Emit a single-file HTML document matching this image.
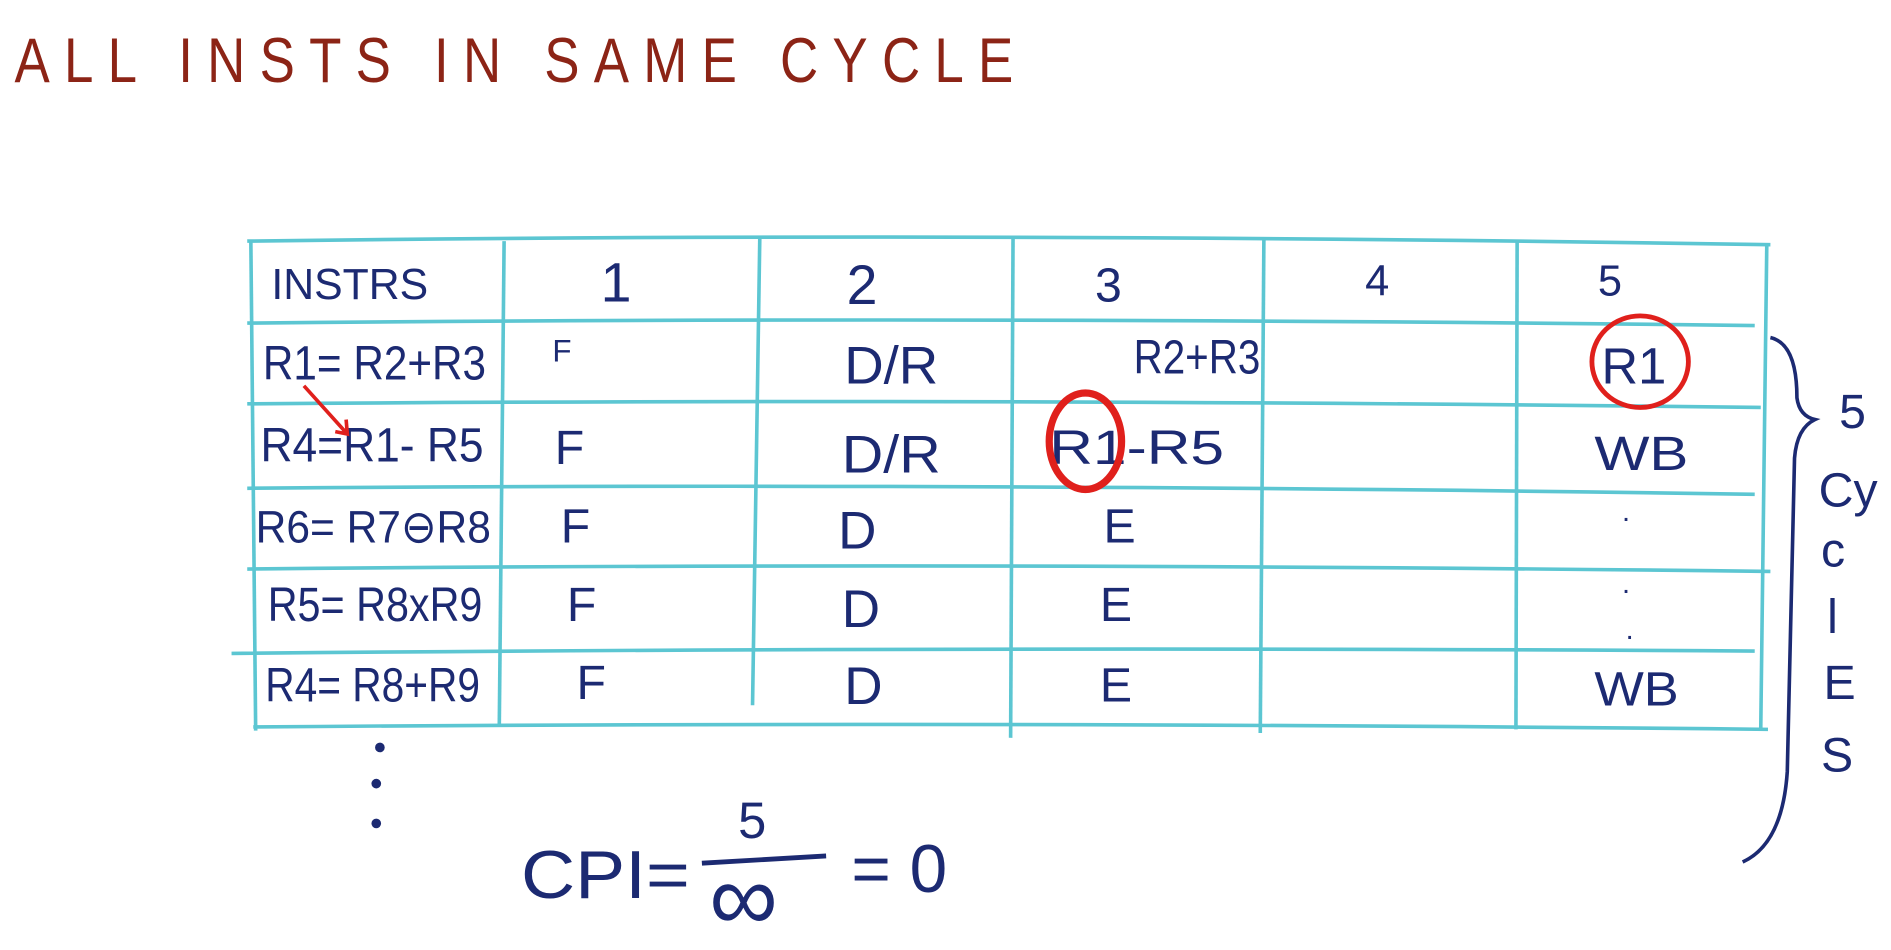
<!DOCTYPE html>
<html><head><meta charset="utf-8"><style>
html,body{margin:0;padding:0;background:#fff;}
svg{display:block;}
text{font-family:"Liberation Sans",sans-serif;}
.t{fill:#1c2a72;font-size:40px;}
.h{fill:#8c2416;font-size:52px;letter-spacing:14px;}
</style></head><body>
<svg width="1891" height="950" viewBox="0 0 1568 788" preserveAspectRatio="none" xmlns="http://www.w3.org/2000/svg">
<text class="h" x="12" y="68" textLength="840" lengthAdjust="spacingAndGlyphs">ALL INSTS IN SAME CYCLE</text>
<g stroke="#5cc6d2" stroke-width="3" fill="none">
<path d="M205 200 Q800 192 1468 203"/>
<path d="M205 268 Q800 262 1455 270"/>
<path d="M205 335 Q800 330 1460 338"/>
<path d="M205 405 Q800 400 1455 410"/>
<path d="M205 472 Q800 466 1468 474"/>
<path d="M192 542 Q800 536 1455 540"/>
<path d="M210 603 Q800 598 1466 605"/>
<path d="M208 200 L212 606"/>
<path d="M418 200 L414 602"/>
<path d="M630 198 L624 585"/>
<path d="M840 197 L838 612"/>
<path d="M1048 198 L1045 608"/>
<path d="M1258 200 L1257 605"/>
<path d="M1465 203 L1460 605"/>
</g>
<g class="t">
<text x="225" y="248" font-size="36" textLength="130" lengthAdjust="spacingAndGlyphs">INSTRS</text>
<text x="498" y="250" font-size="46">1</text>
<text x="702" y="252" font-size="46">2</text>
<text x="908" y="250" font-size="40">3</text>
<text x="1132" y="245" font-size="36">4</text>
<text x="1325" y="245" font-size="36">5</text>
<text x="218" y="315" textLength="185" lengthAdjust="spacingAndGlyphs">R1= R2+R3</text>
<text x="216" y="383" textLength="185" lengthAdjust="spacingAndGlyphs">R4=R1- R5</text>
<text x="212" y="450" font-size="38" textLength="195" lengthAdjust="spacingAndGlyphs">R6= R7⊖R8</text>
<text x="222" y="515" textLength="178" lengthAdjust="spacingAndGlyphs">R5= R8xR9</text>
<text x="220" y="582" textLength="178" lengthAdjust="spacingAndGlyphs">R4= R8+R9</text>
<text x="458" y="300" font-size="26">F</text>
<text x="460" y="385">F</text><text x="465" y="450">F</text>
<text x="470" y="515">F</text><text x="478" y="580">F</text>
<text x="700" y="318" font-size="44" textLength="78" lengthAdjust="spacingAndGlyphs">D/R</text>
<text x="698" y="392" font-size="44" textLength="82" lengthAdjust="spacingAndGlyphs">D/R</text>
<text x="695" y="455" font-size="44">D</text><text x="698" y="520" font-size="44">D</text><text x="700" y="584" font-size="44">D</text>
<text x="940" y="310" textLength="105" lengthAdjust="spacingAndGlyphs">R2+R3</text>
<text x="870" y="385" textLength="145" lengthAdjust="spacingAndGlyphs">R1-R5</text>
<text x="915" y="450">E</text><text x="912" y="515">E</text><text x="912" y="582">E</text>
<text x="1328" y="318" font-size="42">R1</text>
<text x="1322" y="390" textLength="78" lengthAdjust="spacingAndGlyphs">WB</text>
<text x="1322" y="585" textLength="70" lengthAdjust="spacingAndGlyphs">WB</text>
<text x="1345" y="432" font-size="24">.</text>
<text x="1345" y="492" font-size="24">.</text>
<text x="1348" y="530" font-size="24">.</text>
</g>
<g fill="none" stroke-width="4">
<ellipse cx="1360" cy="300" rx="40" ry="38" stroke="#e0201c"/>
<ellipse cx="900" cy="366" rx="30" ry="40" stroke="#e0201c" stroke-width="6"/>
<path d="M252 320 L288 360 M278 358 L288 360 L287 348" stroke="#e0201c" stroke-width="3"/>
<path d="M1468 280 Q1490 285 1490 330 Q1492 345 1505 348 Q1490 355 1488 380 L1482 640 Q1478 700 1445 715" stroke="#1c2a72" stroke-width="3"/>
</g>
<g fill="#1c2a72">
<circle cx="315" cy="620" r="4"/><circle cx="312" cy="650" r="4"/><circle cx="312" cy="683" r="4"/>
</g>
<g class="t" font-size="34">
<text x="1525" y="355">5</text><text x="1508" y="420">Cy</text><text x="1510" y="470">c</text>
<text x="1515" y="525">l</text><text x="1512" y="580">E</text><text x="1510" y="640">S</text>
</g>
<g class="t">
<text x="432" y="745" font-size="56" textLength="140" lengthAdjust="spacingAndGlyphs">CPI=</text>
<text x="612" y="695" font-size="42">5</text>
<path d="M582 716 L685 710" stroke="#1c2a72" stroke-width="4"/>
<text x="588" y="772" font-size="80">∞</text>
<text x="706" y="740" font-size="56">= 0</text>
</g>
</svg>
</body></html>
